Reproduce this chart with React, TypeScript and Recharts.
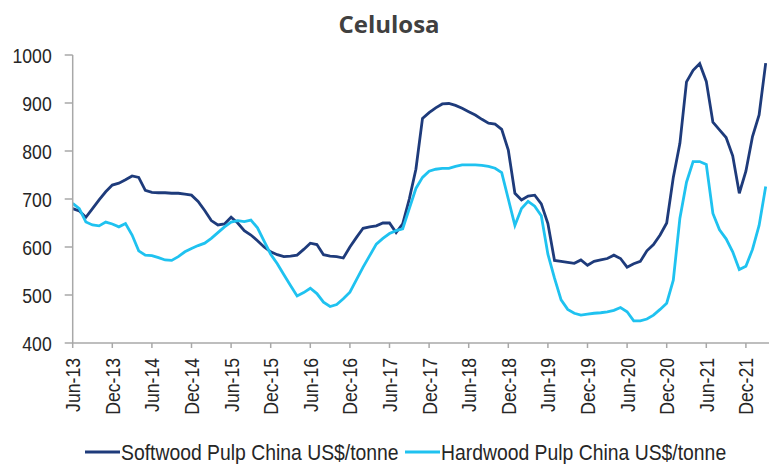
import { LineChart, Line, XAxis, YAxis } from "recharts";

// Monthly pulp prices in China, US$/tonne, Jun-13 .. Mar-22
const START_YEAR = 2013;
const START_MONTH = 5; // June (0-based)

const SOFTWOOD = [
  680, 675, 662, 680, 698, 715, 729, 733, 740, 748,
  745, 718, 714, 713, 713, 712, 712, 710, 708, 695,
  676, 655, 646, 648, 662, 650, 634, 625, 613, 600,
  590, 584, 580, 581, 583, 595, 608, 605, 584, 581,
  580, 577, 600, 620, 639, 642, 644, 650, 650, 630,
  648, 700, 762, 868, 880, 890, 898, 899, 895, 889,
  882, 875, 866, 858, 856, 845, 802, 712, 698, 706,
  708, 690, 649, 572, 570, 568, 566, 573, 562, 570,
  573, 576, 583, 576, 558, 565, 570, 592, 605, 625,
  650, 745, 816, 944, 968, 982, 945, 860, 844, 828,
  790, 712, 758, 830, 875, 983,
];

const HARDWOOD = [
  691, 680, 652, 646, 644, 652, 648, 642, 649, 625,
  592, 583, 582, 578, 573, 572, 580, 590, 597, 603,
  608, 618, 630, 642, 652, 655, 653, 656, 640, 612,
  585, 565, 542, 520, 498, 505, 514, 503, 485, 476,
  480, 492, 506, 532, 558, 582, 606, 618, 628, 634,
  638, 680, 722, 745, 758, 762, 764, 764, 768, 771,
  771, 771, 770, 768, 764, 755, 700, 645, 680, 695,
  685, 665, 585, 535, 490, 470, 462, 458, 460, 462,
  463, 465, 468, 474, 465, 446, 446, 450, 458, 470,
  483, 531, 660, 735, 778, 778, 772, 670, 636, 617,
  590, 553, 560, 595, 645, 726,
];

const TICK_LABELS = [
  "Jun-13", "Dec-13", "Jun-14", "Dec-14", "Jun-15", "Dec-15", "Jun-16", "Dec-16", "Jun-17",
  "Dec-17", "Jun-18", "Dec-18", "Jun-19", "Dec-19", "Jun-20", "Dec-20", "Jun-21", "Dec-21",
];
const Y_TICKS = [400, 500, 600, 700, 800, 900, 1000];

const SERIES = [
  { key: "softwood", name: "Softwood Pulp China US$/tonne", color: "#1E3B7B" },
  { key: "hardwood", name: "Hardwood Pulp China US$/tonne", color: "#1FC2F0" },
];

const MONTHS = ["Jan", "Feb", "Mar", "Apr", "May", "Jun", "Jul", "Aug", "Sep", "Oct", "Nov", "Dec"];

const data = SOFTWOOD.map((v, i) => {
  const m = START_MONTH + i;
  const yy = String(START_YEAR + Math.floor(m / 12)).slice(2);
  return { i, month: `${MONTHS[m % 12]}-${yy}`, softwood: v, hardwood: HARDWOOD[i] };
});

const FONT = "'Liberation Sans', Arial, sans-serif";
const AXIS = "#A8A8A8";

const YTick = ({ x, y, payload }: any) => (
  <text
    transform={`translate(${x},${y}) scale(0.84,1)`}
    textAnchor="end"
    dy="0.36em"
    fontSize={21}
    fontFamily={FONT}
    fill="#262626"
  >
    {payload.value}
  </text>
);

const XTick = ({ x, y, payload }: any) => (
  <text
    transform={`translate(${x + 7.5},${y}) rotate(-90) scale(0.84,1)`}
    textAnchor="end"
    fontSize={21}
    fontFamily={FONT}
    fill="#262626"
  >
    {TICK_LABELS[Math.round(payload.value / 6)]}
  </text>
);

export default function App() {
  return (
    <div style={{ position: "absolute", left: 0, top: 0, width: 769, height: 464, background: "#fff" }}>
      <LineChart width={769} height={464} data={data} margin={{ top: 55, right: 0, bottom: 61, left: 0 }}>
        <XAxis
          type="number"
          dataKey="i"
          domain={[0, 105.5]}
          ticks={TICK_LABELS.map((_, k) => k * 6)}
          interval={0}
          height={60}
          stroke={AXIS}
          strokeWidth={1.5}
          tickSize={5}
          tickMargin={10}
          tick={<XTick />}
        />
        <YAxis
          type="number"
          domain={[400, 1000]}
          ticks={Y_TICKS}
          interval={0}
          width={72.7}
          stroke={AXIS}
          strokeWidth={1.5}
          tickSize={8}
          tickMargin={13}
          tick={<YTick />}
        />
        {SERIES.map((s) => (
          <Line
            key={s.key}
            type="linear"
            dataKey={s.key}
            name={s.name}
            stroke={s.color}
            strokeWidth={2.8}
            dot={false}
            isAnimationActive={false}
          />
        ))}
      </LineChart>
      <svg width={769} height={464} style={{ position: "absolute", left: 0, top: 0, pointerEvents: "none" }}>
        <text
          x={389}
          y={33}
          textAnchor="middle"
          fontSize={24}
          fontWeight={700}
          fontFamily="'Open Sans', sans-serif"
          fill="#404040"
        >
          Celulosa
        </text>
        {SERIES.map((s, k) => {
          const x0 = k === 0 ? 85 : 405;
          return (
            <g key={s.key}>
              <line x1={x0} x2={x0 + 35} y1={452} y2={452} stroke={s.color} strokeWidth={2.8} />
              <text
                transform={`translate(${x0 + 36},460) scale(0.88,1)`}
                fontSize={22}
                fontFamily={FONT}
                fill="#262626"
              >
                {s.name}
              </text>
            </g>
          );
        })}
      </svg>
    </div>
  );
}
